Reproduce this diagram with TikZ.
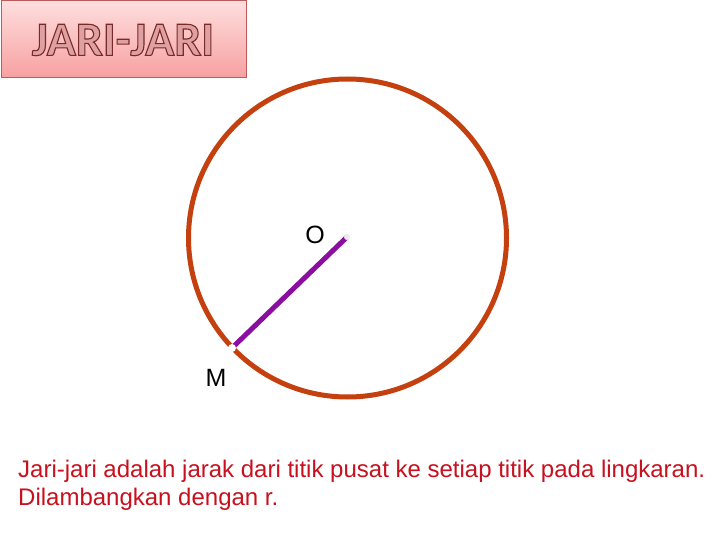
\documentclass[tikz,border=0pt]{standalone}
\usepackage{fontspec}
\setmainfont{Liberation Sans}
\newfontfamily\titlefont{Carlito}
\definecolor{rim}{RGB}{196,64,14}
\definecolor{spoke}{RGB}{140,14,160}
\definecolor{note}{RGB}{200,16,30}
\definecolor{boxtop}{RGB}{255,222,222}
\definecolor{boxbot}{RGB}{247,160,160}
\definecolor{boxedge}{RGB}{190,90,90}
\definecolor{titleink}{RGB}{222,160,160}
\newcommand{\outlined}[1]{\special{pdf:literal direct 2 Tr 1.1 w 0.47 0.16 0.16 RG}#1\special{pdf:literal direct 0 Tr}}
\tikzset{
  ptlabel/.style={font=\fontsize{25}{25}\selectfont},
  notetext/.style={anchor=base west,text=note,font=\fontsize{24}{28}\selectfont,inner sep=0pt}
}

\begin{document}
\begin{tikzpicture}[x=1pt,y=-1pt]
  \useasboundingbox (0,0) rectangle (720,540);
  \fill[white] (0,0) rectangle (720,540);
  % title box
  \shade[top color=boxtop,bottom color=boxbot,draw=boxedge,line width=1pt] (1,1) rectangle (246,78);
  \node (title) at (123,40) {\titlefont\bfseries\fontsize{48}{48}\selectfont\color{titleink}\outlined{JARI-JARI}};
  % circle and radius
  \coordinate (O) at (347,237);
  \coordinate (M) at (234,346);
  \draw[rim,line width=5pt] (347.5,238) circle (159);
  \draw[spoke,line width=5pt] (O) -- (M);
  \fill[white] (232,348) circle (4); % gap at M
  \fill[black!8] (O) circle (3);
  \node[ptlabel] (labO) at (315,235) {O};
  \node[ptlabel] (labM) at (216,378) {M};
  % explanation
  \node[notetext] (line1) at (18,477) {Jari-jari adalah jarak dari titik pusat ke setiap titik pada lingkaran.};
  \node[notetext] (line2) at (18,505) {Dilambangkan dengan r.};
\end{tikzpicture}
\end{document}
